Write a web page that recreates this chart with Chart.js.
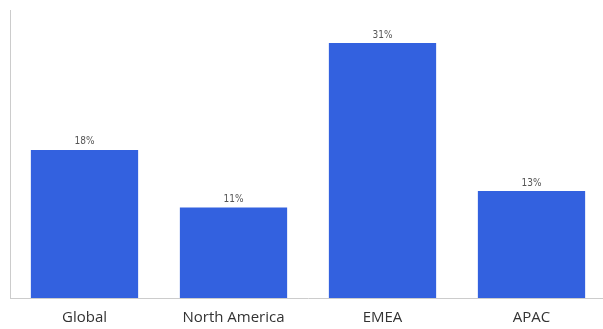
<!DOCTYPE html>
<html>
<head>
<meta charset="utf-8">
<script src="https://cdn.jsdelivr.net/npm/chart.js@4/dist/chart.umd.min.js"></script>
<style>
  html, body { margin: 0; padding: 0; background: #fff; overflow: hidden; }
  #wrap { width: 606px; height: 329px; position: relative; }
</style>
</head>
<body>
<div id="wrap"><canvas id="c"></canvas></div>
<script>
const categories = ['Global', 'North America', 'EMEA', 'APAC'];
const shareValues = [18, 11, 31, 13];
const yMax = 35;

// Writes each bar's value as a percentage just above the bar
const valueLabels = {
  id: 'valueLabels',
  afterDatasetsDraw(chart) {
    const ctx = chart.ctx;
    const meta = chart.getDatasetMeta(0);
    ctx.save();
    ctx.font = '10px "DejaVu Sans Condensed", "Open Sans", sans-serif';
    ctx.fillStyle = '#555';
    ctx.textAlign = 'center';
    ctx.textBaseline = 'bottom';
    meta.data.forEach((bar, i) => {
      ctx.fillText(shareValues[i] + '%', bar.x, bar.y - 3);
    });
    ctx.restore();
  }
};

new Chart(document.getElementById('c'), {
  type: 'bar',
  data: {
    labels: categories,
    datasets: [{
      data: shareValues,
      backgroundColor: '#3361DF',
      borderWidth: 0,
      categoryPercentage: 1,
      barPercentage: 0.72
    }]
  },
  options: {
    responsive: true,
    maintainAspectRatio: false,
    animation: false,
    layout: { padding: { left: 2, top: 10, right: 0, bottom: 0 } },
    plugins: { legend: { display: false }, tooltip: { enabled: false } },
    scales: {
      x: {
        grid: { display: false },
        border: { display: true, color: '#cccccc', width: 1 },
        ticks: {
          color: '#333',
          font: { family: '"Open Sans", sans-serif', size: 15, lineHeight: 1.0 },
          padding: 4
        }
      },
      y: {
        min: 0,
        max: yMax,
        grid: { display: false },
        border: { display: true, color: '#cccccc', width: 1 },
        ticks: { display: false }
      }
    }
  },
  plugins: [valueLabels]
});
</script>
</body>
</html>
